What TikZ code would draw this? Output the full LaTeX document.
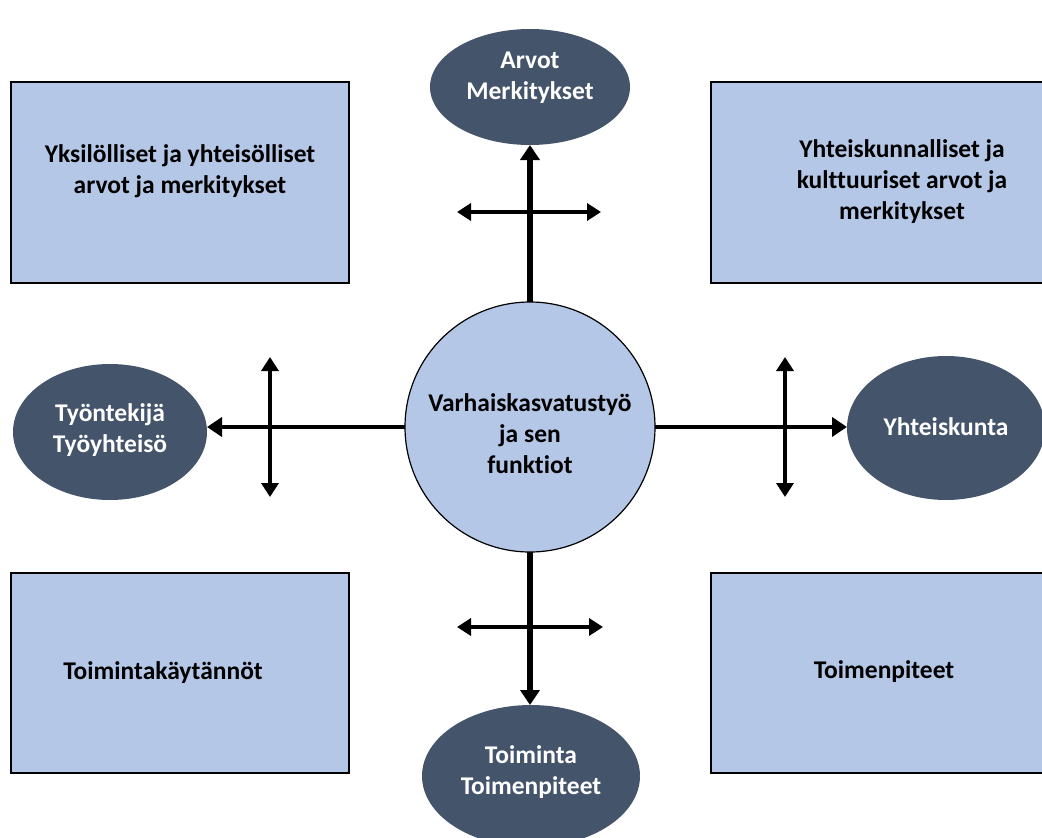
\documentclass[tikz,border=0pt]{standalone}
\usepackage{fontspec}
\setmainfont{Carlito}[Ligatures={NoCommon}]
\usetikzlibrary{arrows.meta,shapes.geometric}
\definecolor{boxblue}{HTML}{B4C7E7}
\definecolor{slate}{HTML}{44546A}

\begin{document}
\begin{tikzpicture}[x=1pt,y=-1pt,
  panel/.style={draw=black, line width=2pt, fill=boxblue},
  oval/.style={ellipse, fill=slate, inner sep=0pt, outer sep=0pt},
  hub/.style={circle, draw=black, line width=1.2pt, fill=boxblue,
    minimum size=250pt, inner sep=0pt, outer sep=0pt},
  dark/.style={text=black, align=center, inner sep=0pt,
    font=\bfseries\fontsize{25.5}{31}\selectfont},
  light/.style={dark, text=white},
  mainarrow/.style={line width=#1, -{Triangle[length=15pt,width=19pt]}},
  crossarrow/.style={line width=3.5pt,
    {Triangle[length=14pt,width=17pt]}-{Triangle[length=14pt,width=17pt]}}
]
\useasboundingbox (0,0) rectangle (1042,838);
\fill[white] (0,0) rectangle (1042,838);
\clip (0,0) rectangle (1042,838);

% corner panels
\draw[panel] (11,82) rectangle (349,283);
\draw[panel] (711,82) rectangle (1095,283);
\draw[panel] (11,573) rectangle (349,773);
\draw[panel] (711,573) rectangle (1095,773);

% ovals and the central circle
\node[oval, minimum width=200pt, minimum height=116pt] (top) at (530,87) {};
\node[oval, minimum width=194pt, minimum height=136pt] (lft) at (110,432) {};
\node[oval, minimum width=198pt, minimum height=144pt] (rgt) at (946,428) {};
\node[oval, minimum width=218pt, minimum height=142pt] (bot) at (531,776) {};
\node[hub] (circ) at (530,427) {};

% connectors from the circle to the ovals
\draw[mainarrow=6pt] (circ.north) -- (circ.north |- top.south);
\draw[mainarrow=6pt] (circ.south) -- (circ.south |- bot.north);
\draw[mainarrow=4pt] (circ.west) -- (circ.west -| lft.east);
\draw[mainarrow=4pt] (circ.east) -- (circ.east -| rgt.west);

% double-headed cross arrows
\coordinate (c1a) at (457,212); \coordinate (c1b) at (601,212);
\coordinate (c2a) at (270,357); \coordinate (c2b) at (270,497);
\coordinate (c3a) at (785,357); \coordinate (c3b) at (785,497);
\coordinate (c4a) at (457,627); \coordinate (c4b) at (603,627);
\draw[crossarrow] (c1a) -- (c1b);
\draw[crossarrow] (c2a) -- (c2b);
\draw[crossarrow] (c3a) -- (c3b);
\draw[crossarrow] (c4a) -- (c4b);

% texts
\node[dark] (tlT) at (180,171) {Yksilölliset ja yhteisölliset\\arvot ja merkitykset};
\node[dark] (trT) at (902,182) {Yhteiskunnalliset ja\\kulttuuriset arvot ja\\merkitykset};
\node[dark] (blT) at (163,673) {Toimintakäytännöt};
\node[dark] (brT) at (884,672) {Toimenpiteet};
\node[dark] (circT) at (530,434) {Varhaiskasvatustyö\\ja sen\\funktiot};
\node[light] (topT) at (530,78) {Arvot\\Merkitykset};
\node[light] (lftT) at (110,430) {Työntekijä\\Työyhteisö};
\node[light] (rgtT) at (946,427) {Yhteiskunta};
\node[light] (botT) at (531,772) {Toiminta\\Toimenpiteet};
\end{tikzpicture}
\end{document}
